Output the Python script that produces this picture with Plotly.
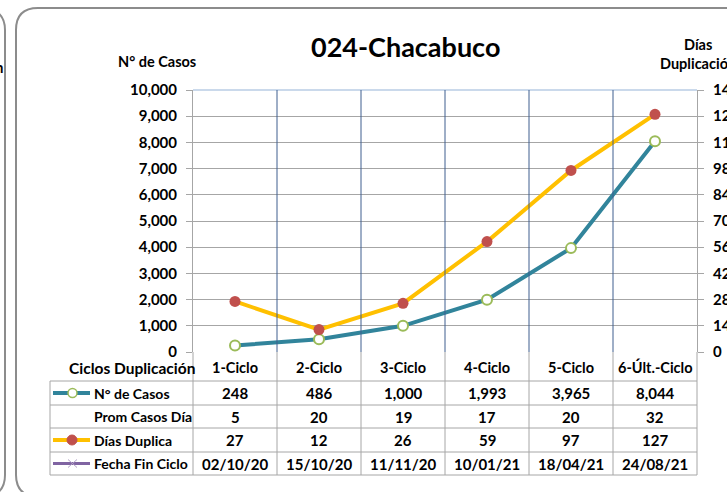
import plotly.graph_objects as go

W, H = 727, 492
FONT = "Lato"

categories = ["1-Ciclo", "2-Ciclo", "3-Ciclo", "4-Ciclo", "5-Ciclo", "6-Últ.-Ciclo"]
casos = [248, 486, 1000, 1993, 3965, 8044]
prom_casos_dia = [5, 20, 19, 17, 20, 32]
dias_duplica = [27, 12, 26, 59, 97, 127]
fecha_fin = ["02/10/20", "15/10/20", "11/11/20", "10/01/21", "18/04/21", "24/08/21"]
row_labels = ["N° de Casos", "Prom Casos Día", "Días Duplica", "Fecha Fin Ciclo"]

TEAL = "#31849B"
GREEN = "#9BBB59"
ORANGE = "#FFC000"
RED = "#C0504D"
PURPLE = "#8064A2"
GRID = "#A6A6A6"
DIV = "#3F5F8F"


def X(px):
    return px / W


def Y(py):
    return 1 - py / H


PL, PR = 193, 697
PT, PB = 90, 352
COLW = (PR - PL) / 6
TBL_L = 50
row_lines = [381, 405, 428, 452, 475]

fig = go.Figure()
fig.add_trace(go.Scatter(
    x=categories, y=casos, mode="lines+markers", name="N° de Casos",
    line=dict(color=TEAL, width=4),
    marker=dict(symbol="circle", size=10, color="white", line=dict(color=GREEN, width=2)),
    yaxis="y"))
fig.add_trace(go.Scatter(
    x=categories, y=dias_duplica, mode="lines+markers", name="Días Duplica",
    line=dict(color=ORANGE, width=4),
    marker=dict(symbol="circle", size=11, color=RED),
    yaxis="y2"))

shapes = []
annotations = []

# panels
shapes.append(dict(type="path", xref="paper", yref="paper",
                   path=f"M {X(16)},{Y(475)} L {X(16)},{Y(30)} Q {X(16)},{Y(8)} {X(38)},{Y(8)} L {X(760)},{Y(8)}",
                   line=dict(color="#8C8C8C", width=2)))
shapes.append(dict(type="path", xref="paper", yref="paper",
                   path=f"M {X(16)},{Y(475)} Q {X(16)},{Y(495)} {X(36)},{Y(497)}",
                   line=dict(color="#8C8C8C", width=2)))
shapes.append(dict(type="path", xref="paper", yref="paper",
                   path=f"M {X(-20)},{Y(8)} Q {X(5)},{Y(8)} {X(5)},{Y(30)} L {X(5)},{Y(475)} Q {X(5)},{Y(495)} {X(-15)},{Y(497)}",
                   line=dict(color="#8C8C8C", width=2)))

# plot top border
shapes.append(dict(type="line", xref="paper", yref="paper", x0=X(PL), x1=X(PR), y0=Y(PT), y1=Y(PT),
                   line=dict(color="#95B3D7", width=1)))

# vertical dividers (plot area, blue) and in table (grey)
for i in range(1, 6):
    shapes.append(dict(type="line", xref="x", yref="paper", x0=i - 0.5, x1=i - 0.5, y0=Y(PB), y1=Y(PT),
                       line=dict(color=DIV, width=1)))
    shapes.append(dict(type="line", xref="x", yref="paper", x0=i - 0.5, x1=i - 0.5, y0=Y(row_lines[-1]), y1=Y(PB),
                       line=dict(color=GRID, width=1)))
# table outer verticals
for px in (TBL_L, PL, PR):
    y_top = row_lines[0] if px == TBL_L else PB
    shapes.append(dict(type="line", xref="paper", yref="paper", x0=X(px), x1=X(px), y0=Y(row_lines[-1]), y1=Y(y_top),
                       line=dict(color=GRID, width=1)))
# table horizontals
for py in row_lines:
    shapes.append(dict(type="line", xref="paper", yref="paper", x0=X(TBL_L), x1=X(PR), y0=Y(py), y1=Y(py),
                       line=dict(color=GRID, width=1)))

# legend keys
def key_line(py, color, width):
    shapes.append(dict(type="line", xref="paper", yref="paper", x0=X(53), x1=X(90), y0=Y(py), y1=Y(py),
                       line=dict(color=color, width=width)))

rc = [(row_lines[i] + row_lines[i + 1]) / 2 for i in range(4)]
key_line(rc[0], TEAL, 4)
shapes.append(dict(type="circle", xref="paper", yref="paper", x0=X(68), x1=X(77), y0=Y(rc[0] + 4.5), y1=Y(rc[0] - 4.5),
                   fillcolor="white", line=dict(color=GREEN, width=1.5)))
key_line(rc[2], ORANGE, 4)
shapes.append(dict(type="circle", xref="paper", yref="paper", x0=X(67), x1=X(77), y0=Y(rc[2] + 5), y1=Y(rc[2] - 5),
                   fillcolor=RED, line=dict(color=RED, width=1)))
key_line(rc[3], PURPLE, 3)
for d in (1, -1):
    shapes.append(dict(type="line", xref="paper", yref="paper", x0=X(68), x1=X(77), y0=Y(rc[3] - 4 * d), y1=Y(rc[3] + 4 * d),
                       line=dict(color="#B3A2C7", width=1)))

def txt(text, px, py, size=13, anchor="center"):
    annotations.append(dict(text=text, x=X(px), y=Y(py), xref="paper", yref="paper", showarrow=False,
                            xanchor=anchor, yanchor="middle",
                            font=dict(family=FONT, size=size, color="black", weight="bold")))

txt("024-Chacabuco", 405, 46, size=27)
txt("N° de Casos", 157, 61, size=14.5)
txt("Días", 698, 45, size=14.5)
txt("Duplicación", 698, 63, size=14.5)
txt("ón", 6, 67, size=14.5, anchor="right")
txt("Ciclos Duplicación", 197, 368, size=15.5, anchor="right")

for i, c in enumerate(categories):
    cx = PL + COLW * (i + 0.5)
    txt(c, cx, 367, size=14.5)
    txt(f"{casos[i]:,}", cx, rc[0], size=15)
    txt(str(prom_casos_dia[i]), cx, rc[1], size=15)
    txt(str(dias_duplica[i]), cx, rc[2], size=15)
    txt(fecha_fin[i], cx, rc[3], size=15)
for j, lab in enumerate(row_labels):
    txt(lab, 92, rc[j], size=14, anchor="left")

tickfont = dict(family=FONT, size=15, color="black", weight="bold")
fig.update_layout(
    width=W, height=H, margin=dict(l=0, r=0, t=0, b=0),
    paper_bgcolor="white", plot_bgcolor="white", showlegend=False,
    xaxis=dict(type="category", categoryorder="array", categoryarray=categories, range=[-0.5, 5.5],
               domain=[X(PL), X(PR)], showticklabels=False, showgrid=False, zeroline=False,
               showline=False, fixedrange=True),
    yaxis=dict(domain=[Y(PB), Y(PT)], range=[0, 10000], dtick=1000, tickformat=",",
               ticks="outside", ticklen=6, tickcolor=GRID, gridcolor=GRID, gridwidth=1,
               showline=True, linecolor=GRID, zeroline=False, tickfont=tickfont, automargin=False,
               ticklabelstandoff=6),
    yaxis2=dict(overlaying="y", side="right", range=[0, 140], dtick=14, showgrid=False,
                ticks="outside", ticklen=6, tickcolor=GRID, showline=True, linecolor=GRID,
                zeroline=False, tickfont=tickfont, automargin=False, ticklabelstandoff=6),
    shapes=shapes, annotations=annotations,
)

fig.write_html("out.html", config={"displayModeBar": False},
               post_script="document.body.style.margin='0';document.body.style.overflow='hidden';")
